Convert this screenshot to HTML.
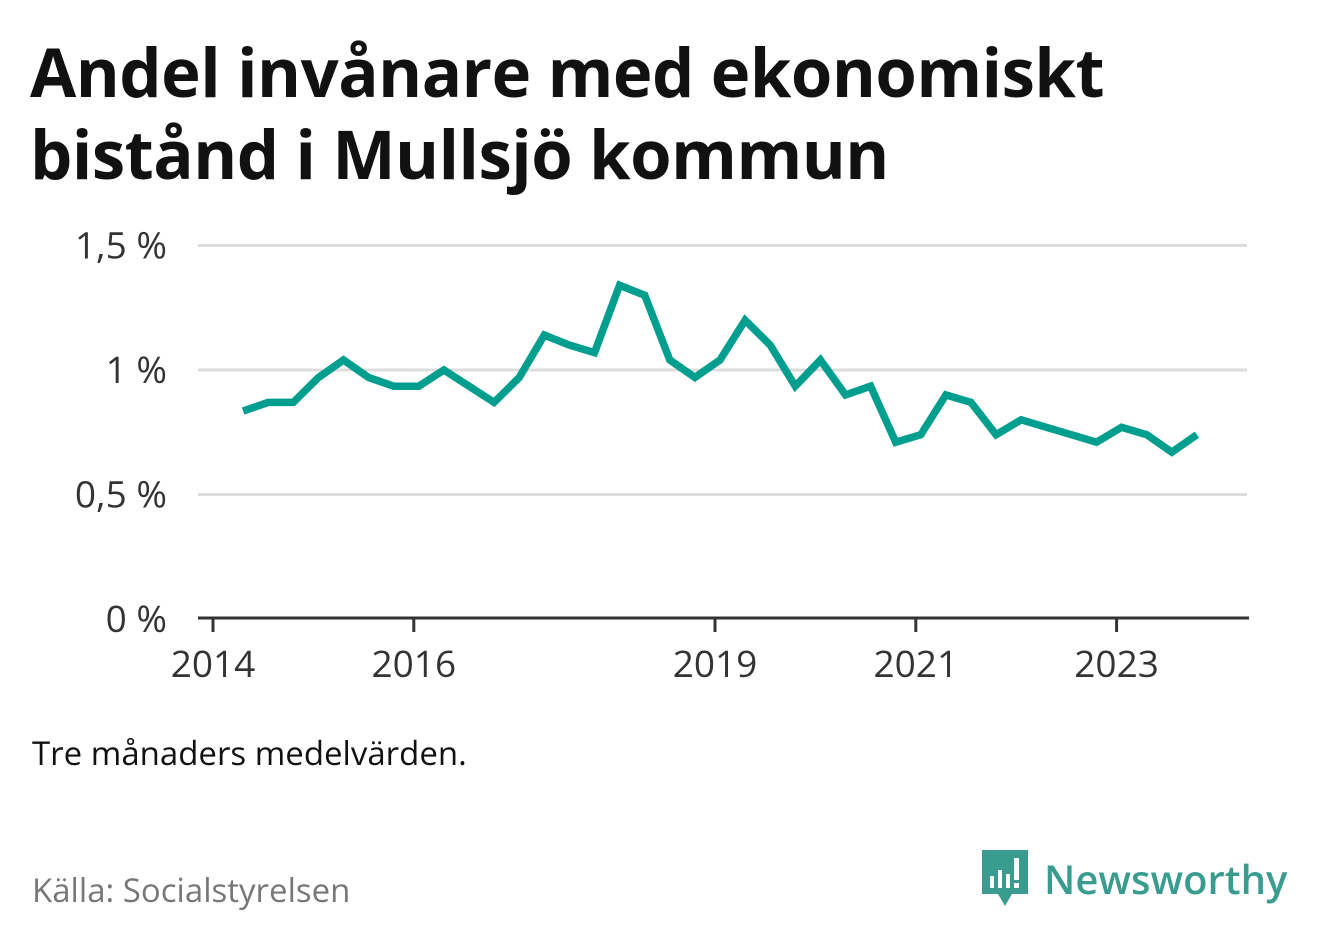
<!DOCTYPE html>
<html><head><meta charset="utf-8">
<style>
body{margin:0;width:1322px;height:939px;background:#fff;font-family:"Open Sans","Liberation Sans","DejaVu Sans",sans-serif;overflow:hidden}
h1{position:absolute;left:30px;top:30px;margin:0;font-size:67px;line-height:82px;font-weight:bold;color:#111;letter-spacing:-0.5px}
.note{position:absolute;left:32px;top:730px;font-size:33px;color:#111}
.src{position:absolute;left:32px;top:867px;font-size:33px;color:#777}
.logo{position:absolute;left:980px;top:848px;font-size:40px;color:#3a9c8f;font-weight:600}
</style></head><body>
<h1>Andel invånare med ekonomiskt<br>bistånd i Mullsjö kommun</h1>
<svg width="1322" height="939" style="position:absolute;left:0;top:0">
<g id="grid"></g><g id="xax"></g>
<path id="line" fill="none" stroke="#009e8f" stroke-width="7.5" stroke-linejoin="miter"/>
</svg>
<div class="note">Tre månaders medelvärden.</div>
<div class="src">Källa: Socialstyrelsen</div>
<div class="logo">
<svg width="50" height="60" style="vertical-align:-14px;margin-right:14px"><path d="M2 2h46v44H32l-7 12-7-12H2z" fill="#3a9c8f"/><rect x="10" y="28" width="4" height="12" fill="#fff"/><rect x="18" y="22" width="4" height="18" fill="#fff"/><rect x="26" y="26" width="4" height="14" fill="#fff"/><rect x="34" y="10" width="5" height="22" fill="#fff"/><rect x="34" y="35" width="5" height="5" fill="#fff"/></svg>Newsworthy</div>
<script>
const yTicks=[0,0.5,1,1.5];
const yLabels=["0 %","0,5 %","1 %","1,5 %"];
const xTicks=[2014,2016,2019,2021,2023];
const startYear=2014.3;
const values=[0.835,0.87,0.87,0.97,1.04,0.97,0.935,0.935,1.0,0.935,0.87,0.97,1.14,1.1,1.07,1.34,1.3,1.04,0.97,1.04,1.2,1.1,0.935,1.04,0.9,0.935,0.71,0.74,0.9,0.87,0.74,0.8,0.77,0.74,0.71,0.77,0.74,0.67,0.74];
const ns="http://www.w3.org/2000/svg";
const y=v=>619-v*249, x=t=>213+(t-2014)*100.4;
const grid=document.getElementById('grid'), xax=document.getElementById('xax');
yTicks.forEach((t,i)=>{
 if(t>0){const l=document.createElementNS(ns,'line');
 
 
 l.setAttribute('x1',198);l.setAttribute('x2',1247);l.setAttribute('y1',y(t));l.setAttribute('y2',y(t));l.setAttribute('stroke','#ddd');l.setAttribute('stroke-width',3);grid.appendChild(l);}
 const tx=document.createElementNS(ns,'text');
 
 
 tx.setAttribute('x',167);tx.setAttribute('y',y(t)+13);tx.setAttribute('text-anchor','end');tx.setAttribute('font-size',37);tx.setAttribute('fill','#333');tx.textContent=yLabels[i];grid.appendChild(tx);
});
const ax=document.createElementNS(ns,'line');


ax.setAttribute('x1',198);ax.setAttribute('x2',1249);ax.setAttribute('y1',618);ax.setAttribute('y2',618);ax.setAttribute('stroke','#333');ax.setAttribute('stroke-width',3);xax.appendChild(ax);
xTicks.forEach(t=>{
 const l=document.createElementNS(ns,'line');
 
 
 l.setAttribute('x1',x(t));l.setAttribute('x2',x(t));l.setAttribute('y1',618);l.setAttribute('y2',632);l.setAttribute('stroke','#333');l.setAttribute('stroke-width',3);xax.appendChild(l);
 const tx=document.createElementNS(ns,'text');
 
 
 tx.setAttribute('x',x(t));tx.setAttribute('y',677);tx.setAttribute('text-anchor','middle');tx.setAttribute('font-size',37);tx.setAttribute('fill','#333');tx.textContent=t;xax.appendChild(tx);
});
document.getElementById('line').setAttribute('d',values.map((v,i)=>(i?'L':'M')+x(startYear+i*0.25).toFixed(1)+' '+y(v).toFixed(1)).join(' '));
</script>
</body></html>
